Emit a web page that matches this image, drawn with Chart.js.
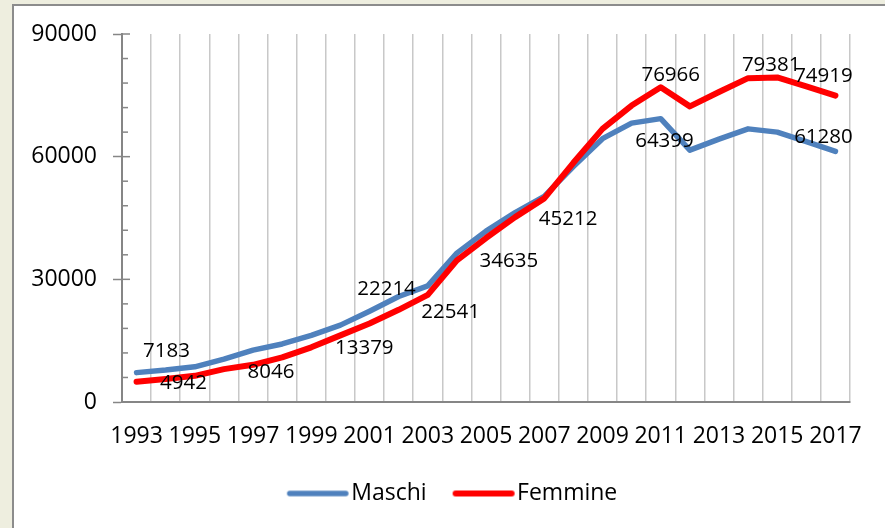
<!DOCTYPE html>
<html>
<head>
<meta charset="utf-8">
<script src="https://cdn.jsdelivr.net/npm/chart.js@4.4.0/dist/chart.umd.min.js"></script>
<style>
  html, body { margin: 0; padding: 0; background: #eeeedf; overflow: hidden; }
  #frame { position: absolute; left: 12px; top: 4px; width: 900px; height: 560px; background: #fff; border: 2px solid #8c8c8c; }
  #chart { position: absolute; left: 0; top: 0; }
</style>
</head>
<body>
<div id="frame">
  <canvas id="chart" width="871" height="522"></canvas>
</div>
<script>
// dati
const years = ['1993','1994','1995','1996','1997','1998','1999','2000','2001','2002','2003','2004','2005',
  '2006','2007','2008','2009','2010','2011','2012','2013','2014','2015','2016','2017'];
const maschi = [7183, 7800, 8600, 10500, 12700, 14200, 16300, 18800, 22214, 25800, 28400, 36400, 41800,
  46300, 50300, 57600, 64399, 68200, 69300, 61600, 64300, 66800, 66000, 63700, 61280];
const femmine = [4942, 5650, 6400, 8046, 9100, 10900, 13379, 16300, 19200, 22541, 26200, 34635, 40100,
  45212, 49800, 58500, 66800, 72500, 76966, 72300, 75800, 79200, 79381, 77200, 74919];
const yMajor = [0, 30000, 60000, 90000];

// etichette dei valori: serie (0 = Maschi, 1 = Femmine) e anno
const labelSeries = [0, 1, 1, 1, 0, 1, 1, 1, 0, 1, 1, 1, 0];
const labelIndex  = [0, 0, 3, 6, 8, 9, 11, 13, 16, 18, 22, 24, 24];
// spostamento del testo rispetto al punto
const labelShift = [[30,-21],[47,1],[47,3],[53,1],[17,-22],[52,2],[52,1],[53,2],[62,2],[10,-12],[-6,-12],[-12,-20],[-12,-14]];

const FONT = 'Open Sans';

// simbolo della legenda: linea con estremi arrotondati
function legendLine(color, lw) {
  const c = document.createElement('canvas');
  c.width = 64;
  c.height = 10;
  const g = c.getContext('2d');
  g.strokeStyle = color;
  g.lineWidth = lw;
  g.lineCap = 'round';
  g.beginPath();
  g.moveTo(4, 5);
  g.lineTo(60, 5);
  g.stroke();
  return c;
}

// tacche interne dell'asse Y
const innerTicks = {
  id: 'innerTicks',
  afterDraw(chart) {
    const y = chart.scales.y;
    const ctx = chart.ctx;
    const x0 = chart.chartArea.left;
    ctx.save();
    ctx.strokeStyle = '#868686';
    ctx.lineWidth = 1.5;
    y.ticks.forEach(t => {
      const py = y.getPixelForValue(t.value);
      const len = yMajor.includes(t.value) ? 8 : 6;
      ctx.beginPath();
      ctx.moveTo(x0, py);
      ctx.lineTo(x0 + len, py);
      ctx.stroke();
    });
    ctx.restore();
  }
};

// etichette dei dati
const valueLabels = {
  id: 'valueLabels',
  afterDatasetsDraw(chart) {
    const ctx = chart.ctx;
    ctx.save();
    ctx.fillStyle = '#000';
    ctx.font = '20.5px "' + FONT + '"';
    ctx.textAlign = 'center';
    ctx.textBaseline = 'middle';
    labelSeries.forEach((s, k) => {
      const i = labelIndex[k];
      const pt = chart.getDatasetMeta(s).data[i];
      const val = chart.data.datasets[s].data[i];
      ctx.fillText(String(val), pt.x + labelShift[k][0], pt.y + labelShift[k][1]);
    });
    ctx.restore();
  }
};

new Chart(document.getElementById('chart'), {
  type: 'line',
  data: {
    labels: years,
    datasets: [
      {
        label: 'Maschi',
        data: maschi,
        borderColor: '#4f81bd',
        backgroundColor: '#4f81bd',
        borderWidth: 5.5,
        pointRadius: 0,
        pointStyle: legendLine('#4f81bd', 5.5),
        borderCapStyle: 'round',
        borderJoinStyle: 'round',
        tension: 0,
        order: 2
      },
      {
        label: 'Femmine',
        data: femmine,
        borderColor: '#ff0000',
        backgroundColor: '#ff0000',
        borderWidth: 6,
        pointRadius: 0,
        pointStyle: legendLine('#ff0000', 6),
        borderCapStyle: 'round',
        borderJoinStyle: 'round',
        tension: 0,
        order: 1
      }
    ]
  },
  options: {
    responsive: false,
    animation: false,
    devicePixelRatio: 1,
    layout: { padding: { left: 14, right: 0, top: 28, bottom: 13 } },
    plugins: {
      tooltip: { enabled: false },
      legend: {
        position: 'bottom',
        labels: {
          usePointStyle: true,
          pointStyleWidth: 44,
          padding: 35,
          color: '#000',
          font: { family: FONT, size: 23 },
          sort: (a, b) => a.datasetIndex - b.datasetIndex
        }
      }
    },
    scales: {
      x: {
        offset: true,
        grid: { offset: true, color: '#c8c8c8', lineWidth: 1.5, drawTicks: false },
        border: { color: '#868686', width: 2 },
        ticks: {
          autoSkip: false,
          maxRotation: 0,
          padding: 21,
          color: '#000',
          font: { family: FONT, size: 23 },
          callback: (v, i) => (i % 2 === 0 ? years[i] : '')
        },
        afterFit: s => { s.height = 45; }
      },
      y: {
        min: 0,
        max: 90000,
        ticks: {
          stepSize: 6000,
          autoSkip: false,
          padding: 16,
          color: '#000',
          font: { family: FONT, size: 23, lineHeight: 1 },
          callback: v => (yMajor.includes(v) ? String(v) : '')
        },
        grid: {
          drawOnChartArea: false,
          drawTicks: true,
          tickLength: 9,
          tickWidth: 1.5,
          tickColor: c => (c.tick && yMajor.includes(c.tick.value) ? '#868686' : 'rgba(0,0,0,0)')
        },
        border: { color: '#868686', width: 2 },
        afterFit: s => { s.width = 94; }
      },
      margine: {
        position: 'right',
        grid: { display: false },
        border: { display: false },
        ticks: { display: false },
        afterFit: s => { s.width = 35; }
      }
    }
  },
  plugins: [innerTicks, valueLabels]
});
</script>
</body>
</html>
